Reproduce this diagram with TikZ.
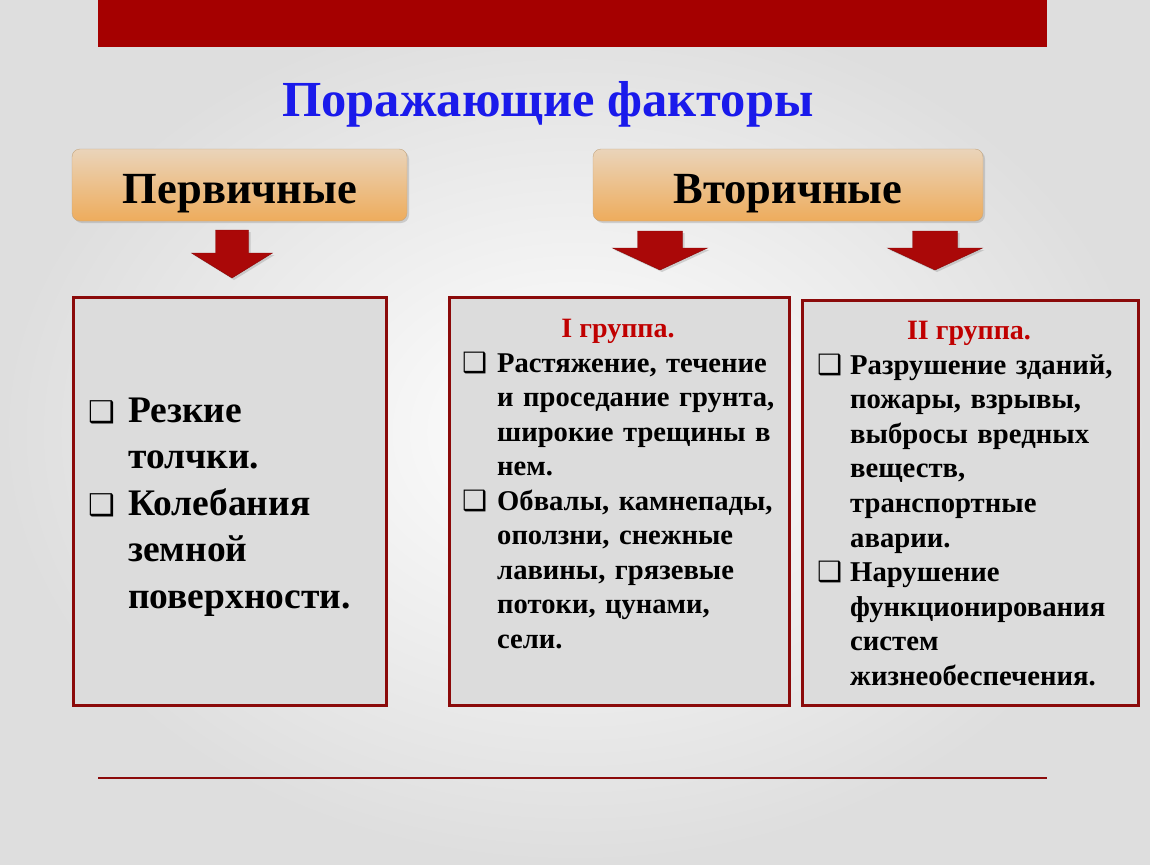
\documentclass[tikz,border=0pt]{standalone}
\usepackage{fontspec}
\setmainfont{Liberation Serif}
\newfontfamily\symbolFont{DejaVu Sans}
\usetikzlibrary{positioning,shadows}
\definecolor{barColor}{RGB}{165,0,0}
\definecolor{titleColor}{RGB}{26,26,235}
\definecolor{frameColor}{RGB}{139,10,10}
\definecolor{boxFill}{RGB}{220,220,220}
\definecolor{headTop}{RGB}{234,212,186}
\definecolor{headBottom}{RGB}{238,172,92}
\definecolor{headBorder}{RGB}{196,166,128}
\definecolor{arrowColor}{RGB}{170,8,8}
\definecolor{groupColor}{RGB}{192,0,0}
\definecolor{backEdge}{RGB}{222,222,222}
\tikzstyle{slide} = [x=1pt, y=-1pt]
\tikzstyle{titleStyle} = [text=titleColor, font=\fontsize{50.5}{50.5}\selectfont\bfseries, anchor=base, inner sep=0pt]
\tikzstyle{headerStyle} = [draw=headBorder, thin, rounded corners=8pt, top color=headTop, bottom color=headBottom, minimum height=72pt, drop shadow={opacity=0.3, shadow xshift=2pt, shadow yshift=-2pt}]
\tikzstyle{headerText} = [font=\fontsize{44.5}{44.5}\selectfont\bfseries, anchor=base, inner sep=0pt]
\tikzstyle{listBox} = [draw=frameColor, line width=2.5pt, fill=boxFill, anchor=north west, inner sep=0pt]
\tikzstyle{groupText} = [text=groupColor, font=\fontsize{28}{28}\selectfont\bfseries, anchor=base, inner sep=0pt]
\tikzstyle{listText} = [anchor=base west, inner sep=0pt, text width=330pt]
\tikzstyle{arrowStyle} = [fill=arrowColor, draw=arrowColor!80!black, thin, drop shadow={opacity=0.3, shadow xshift=2pt, shadow yshift=-2pt}]
\newcommand{\bulletMark}[1]{{\symbolFont\fontsize{#1}{#1}\selectfont ❑}}
\newcommand{\listItem}[3]{\noindent\hangindent=#1\hangafter=1\makebox[#1][l]{\bulletMark{#2}}#3\par}
\newcommand{\downArrow}[6]{\filldraw [arrowStyle] (#1 - #5, #2) -- (#1 + #5, #2) -- (#1 + #5, #3) -- (#1 + #6, #3) -- (#1, #4) -- (#1 - #6, #3) -- (#1 - #5, #3) -- cycle;}

\begin{document}
\begin{tikzpicture}[slide]
  \useasboundingbox (0,0) rectangle (1150,864);
  \shade [inner color=white, outer color=backEdge] (0,0) rectangle (1150,864);
  \fill [barColor] (98,0) rectangle (1047,47);
  \draw [frameColor, line width=2pt] (98,778) -- (1047,778);

  \node [titleStyle] (title) at (548,117) {Поражающие факторы};

  \node [headerStyle, minimum width=335pt] (primaryHead) at (239.5,185) {};
  \node [headerStyle, minimum width=390pt] (secondaryHead) at (788,185) {};
  \node [headerText] (primaryHeadText) at (240,203) {Первичные};
  \node [headerText] (secondaryHeadText) at (788,203) {Вторичные};

  \downArrow{232}{230}{253}{278}{16.5}{40.5}
  \downArrow{660}{231}{248}{270}{22.5}{47.5}
  \downArrow{935}{231}{248}{270}{22.5}{47.5}

  \node [listBox, minimum width=313pt, minimum height=408pt] (primaryBox) at (72,296) {};
  \node [listBox, minimum width=340pt, minimum height=408pt] (firstGroupBox) at (448,296) {};
  \node [listBox, minimum width=336pt, minimum height=405pt] (secondGroupBox) at (801,299) {};

  \node [listText, font=\fontsize{37.5}{46.5}\selectfont\bfseries] (primaryText) at (88,422) {%
    \listItem{40pt}{30}{Резкие\newline толчки.}%
    \listItem{40pt}{30}{Колебания\newline земной\newline поверхности.}};

  \node [groupText] (firstGroupLabel) at (618,337) {I группа.};
  \node [listText, font=\fontsize{28.6}{34.5}\selectfont\bfseries] (firstGroupText) at (462,372) {%
    \listItem{35pt}{28}{Растяжение, течение\newline и проседание грунта,\newline широкие трещины в\newline нем.}%
    \listItem{35pt}{28}{Обвалы, камнепады,\newline оползни, снежные\newline лавины, грязевые\newline потоки, цунами,\newline сели.}};

  \node [groupText] (secondGroupLabel) at (969,339) {II группа.};
  \node [listText, font=\fontsize{28.7}{34.6}\selectfont\bfseries] (secondGroupText) at (817,374) {%
    \listItem{33pt}{28}{Разрушение зданий,\newline пожары, взрывы,\newline выбросы вредных\newline веществ,\newline транспортные\newline аварии.}%
    \listItem{33pt}{28}{Нарушение\newline функционирования\newline систем\newline жизнеобеспечения.}};
\end{tikzpicture}
\end{document}
